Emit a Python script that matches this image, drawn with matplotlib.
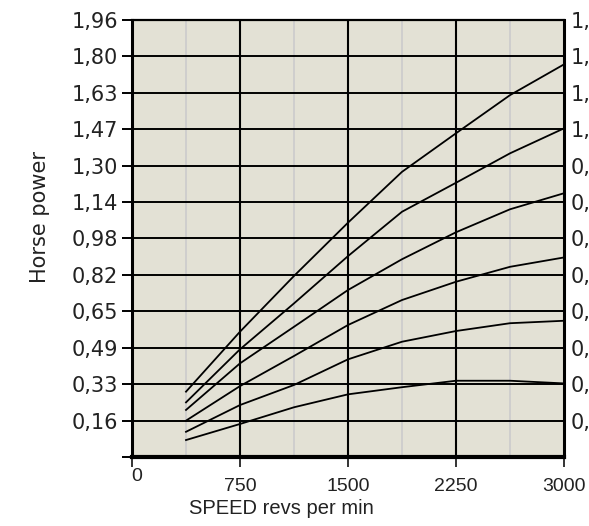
"""Horse power vs speed chart, hp on left, kW on right (clipped)."""

import numpy as np
import matplotlib

matplotlib.use("Agg")
import matplotlib.pyplot as plt
from matplotlib.transforms import blended_transform_factory

# data
speed = [375, 750, 1125, 1500, 1875, 2250, 2625, 3000]
hp_curve_1 = [0.293, 0.562, 0.812, 1.051, 1.279, 1.452, 1.623, 1.761]
hp_curve_2 = [0.245, 0.483, 0.689, 0.901, 1.100, 1.230, 1.362, 1.474]
hp_curve_3 = [0.211, 0.420, 0.584, 0.749, 0.887, 1.008, 1.111, 1.183]
hp_curve_4 = [0.163, 0.318, 0.453, 0.592, 0.704, 0.786, 0.853, 0.895]
hp_curve_5 = [0.113, 0.233, 0.323, 0.438, 0.517, 0.565, 0.600, 0.611]
hp_curve_6 = [0.076, 0.148, 0.223, 0.281, 0.313, 0.342, 0.342, 0.330]

hp_labels = ["", "0,16", "0,33", "0,49", "0,65", "0,82", "0,98",
             "1,14", "1,30", "1,47", "1,63", "1,80", "1,96"]
kw_labels = ["", "0,12", "0,24", "0,36", "0,48", "0,60", "0,72",
             "0,84", "0,96", "1,08", "1,20", "1,32", "1,44"]
speed_major = [750, 1500, 2250, 3000]
speed_major_labels = ["750", "1500", "2250", "3000"]
speed_minor = [375, 1125, 1875, 2625]

HP_MAX = 1.96
LABEL_FONT = "DejaVu Sans"
AXIS_FONT = "Liberation Sans"
TEXT_COLOR = "#222222"

fig = plt.figure(figsize=(5.89, 5.26), dpi=100)
ax = fig.add_axes([0.2241, 0.1312, 0.7335, 0.8308])
ax.set_facecolor("#e3e1d5")
ax.set_xlim(0, 3000)
ax.set_ylim(0, HP_MAX)

hp_ticks = np.linspace(0, HP_MAX, len(hp_labels))

# grid: gray minor verticals, black major verticals and horizontals
for x in speed_minor:
    ax.axvline(x, color="#cdcdcd", lw=1.3, zorder=1)
for x in speed_major[:-1]:
    ax.axvline(x, color="black", lw=1.5, zorder=2)
for y in hp_ticks[1:-1]:
    ax.axhline(y, color="black", lw=1.4, zorder=2)

for curve in [hp_curve_1, hp_curve_2, hp_curve_3,
              hp_curve_4, hp_curve_5, hp_curve_6]:
    ax.plot(speed, curve, color="black", lw=1.3, zorder=3)

for side, lw in [("left", 2.2), ("bottom", 3.0), ("right", 2.2), ("top", 1.6)]:
    ax.spines[side].set_linewidth(lw)
    ax.spines[side].set_zorder(4)

ax.set_yticks(hp_ticks)
ax.set_yticklabels(hp_labels, fontsize=15, family=LABEL_FONT, color=TEXT_COLOR)
ax.tick_params(axis="y", direction="out", length=7, width=1.4, pad=3)

ax.set_xticks([0] + speed_major)
ax.set_xticklabels([""] + speed_major_labels, fontsize=14, family=AXIS_FONT,
                   color=TEXT_COLOR)
ax.tick_params(axis="x", direction="out", length=7, width=1.4, pad=8,
               color="#333333")

# the "0" label sits higher and a bit right in the reference
trans = blended_transform_factory(ax.transData, ax.transAxes)
ax.text(35, -0.045, "0", transform=trans, ha="center", va="center",
        fontsize=14, family=AXIS_FONT, color=TEXT_COLOR)

ax.set_ylabel("Horse power", fontsize=15, family=LABEL_FONT, color=TEXT_COLOR)
ax.yaxis.set_label_coords(-0.19, 0.55)
ax.set_xlabel("SPEED revs per min", fontsize=14.5, family=AXIS_FONT,
              color=TEXT_COLOR)
ax.xaxis.set_label_coords(0.345, -0.095)

# kW scale on the right, runs off the image edge
ax2 = ax.twinx()
ax2.set_ylim(0, HP_MAX)
ax2.set_yticks(hp_ticks)
ax2.set_yticklabels(kw_labels, fontsize=15, family=LABEL_FONT, color=TEXT_COLOR)
ax2.tick_params(axis="y", length=0, pad=5)
for s in ax2.spines.values():
    s.set_visible(False)

fig.savefig("out.png", dpi=100)
plt.close(fig)
